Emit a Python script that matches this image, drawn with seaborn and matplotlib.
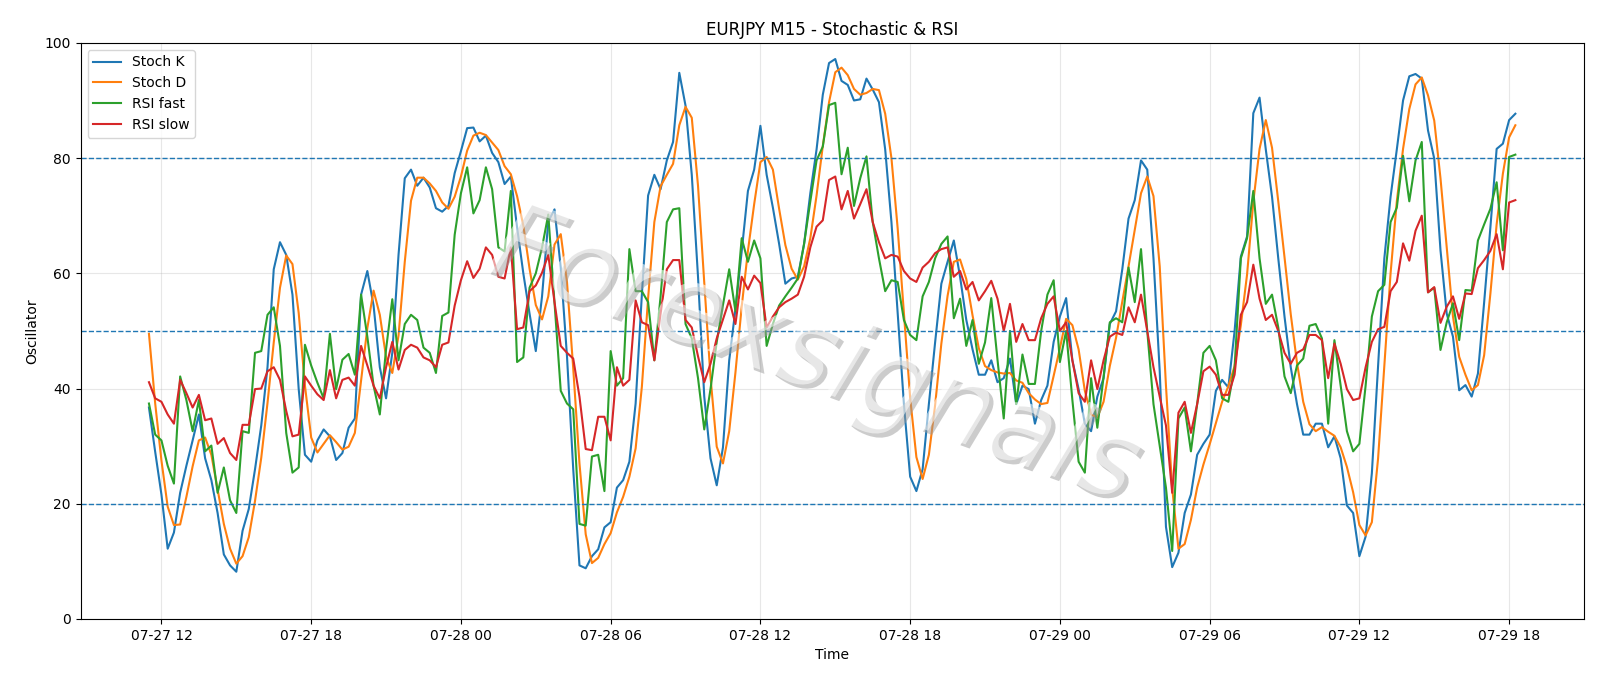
import numpy as np
import pandas as pd
import matplotlib
matplotlib.use("Agg")
import matplotlib.pyplot as plt
import matplotlib.dates as mdates
import matplotlib.patheffects as pe
import seaborn as sns

# 1. Data (M15 bars)
start_time = "2022-07-27 11:30"
n_bars = 220

stoch_k = [
    36.7, 29.0, 21.6, 12.2, 15.0, 21.9, 26.6, 31.0, 35.5, 27.9,
    24.1, 18.4, 11.2, 9.3, 8.2, 15.3, 19.1, 26.0, 33.6, 43.7,
    60.7, 65.4, 63.2, 56.3, 39.9, 28.5, 27.3, 31.0, 32.9, 31.7,
    27.6, 28.8, 33.2, 34.8, 56.3, 60.4, 54.4, 43.7, 38.3, 46.2,
    63.2, 76.5, 78.0, 75.2, 76.6, 74.9, 71.3, 70.7, 71.7, 77.4,
    81.2, 85.2, 85.3, 82.9, 83.9, 80.9, 79.3, 75.5, 76.8, 68.0,
    60.0, 53.0, 46.5, 56.0, 69.0, 71.1, 61.0, 45.6, 26.0, 9.3,
    8.8, 10.9, 12.1, 15.9, 16.8, 22.8, 24.1, 27.3, 37.4, 56.3,
    73.5, 77.1, 74.6, 79.6, 82.8, 94.8, 89.1, 77.1, 59.4, 38.6,
    27.9, 23.2, 29.8, 44.9, 53.8, 63.8, 74.3, 78.0, 85.6, 77.1,
    71.4, 65.1, 58.2, 59.1, 59.4, 65.1, 73.9, 81.5, 91.0, 96.5,
    97.2, 93.4, 92.7, 90.0, 90.2, 93.8, 91.9, 89.7, 81.5, 68.9,
    53.1, 37.3, 24.7, 22.2, 26.0, 37.3, 48.0, 58.2, 62.0, 65.7,
    59.4, 51.9, 46.8, 42.4, 42.4, 44.9, 41.1, 41.8, 45.2, 37.3,
    40.5, 39.9, 33.9, 38.0, 40.5, 48.1, 52.5, 55.7, 44.9, 39.9,
    33.9, 32.6, 38.6, 41.8, 51.2, 53.4, 60.7, 69.5, 72.7, 79.6,
    78.0, 62.6, 43.0, 16.0, 9.0, 11.5, 18.4, 21.6, 28.5, 30.4,
    32.0, 39.6, 41.5, 40.2, 50.0, 62.9, 66.4, 87.8, 90.5, 81.5,
    73.3, 62.6, 52.5, 43.7, 37.3, 32.0, 32.0, 33.9, 33.9, 29.8,
    31.7, 27.9, 19.7, 18.4, 10.9, 14.3, 25.3, 44.1, 62.6, 73.3,
    81.5, 90.0, 94.2, 94.6, 93.8, 84.8, 79.9, 64.0, 53.0, 49.0,
    39.7, 40.6, 38.6, 42.6, 55.0, 68.0, 81.6, 82.5, 86.6, 87.7,
]

stoch_d = [
    49.5, 37.4, 27.5, 19.5, 16.3, 16.4, 21.2, 26.5, 31.0, 31.5,
    28.5, 22.5, 16.5, 12.2, 9.6, 10.9, 14.2, 20.5, 28.0, 37.5,
    48.0, 57.5, 63.1, 61.6, 53.1, 40.5, 31.5, 28.9, 30.4, 31.9,
    30.7, 29.4, 29.9, 32.3, 41.4, 50.5, 57.0, 52.8, 45.5, 42.7,
    49.2, 62.0, 72.6, 76.6, 76.6, 75.6, 74.3, 72.3, 71.2, 73.3,
    76.8, 81.3, 83.9, 84.4, 84.0, 82.7, 81.4, 78.6, 77.2, 73.4,
    68.3, 60.8, 54.5, 52.0, 56.0, 65.0, 66.8, 58.5, 43.5, 27.0,
    14.7, 9.7, 10.6, 13.0, 14.9, 18.5, 21.2, 24.7, 29.6, 40.3,
    55.7, 68.9, 75.1, 77.1, 79.0, 85.7, 88.9, 87.0, 75.2, 58.4,
    42.0, 29.9, 27.0, 32.6, 42.8, 54.2, 63.9, 72.0, 79.3, 80.2,
    78.0, 71.2, 64.9, 60.8, 58.9, 61.2, 66.1, 73.5, 82.1, 89.7,
    94.9, 95.7, 94.4, 92.0, 91.0, 91.3, 92.0, 91.8, 87.7, 80.0,
    67.8, 53.1, 38.4, 28.1, 24.3, 28.5, 37.1, 47.8, 56.1, 62.0,
    62.4, 59.0, 52.7, 47.0, 43.9, 43.2, 42.8, 42.6, 42.7, 41.4,
    41.0, 39.2, 38.1, 37.3, 37.5, 42.2, 47.0, 52.1, 51.0, 46.8,
    39.6, 35.5, 35.0, 37.7, 43.9, 48.8, 55.1, 61.2, 67.6, 73.9,
    76.8, 73.4, 61.2, 40.5, 22.7, 12.2, 13.0, 17.2, 22.8, 26.8,
    30.3, 34.0, 37.7, 40.4, 43.9, 51.0, 59.8, 72.4, 81.6, 86.6,
    81.8, 72.5, 62.8, 52.9, 44.5, 37.7, 33.8, 32.6, 33.3, 32.5,
    31.8, 29.8, 26.4, 22.0, 16.3, 14.5, 16.8, 27.9, 44.0, 60.0,
    72.5, 81.6, 88.5, 92.8, 94.0, 90.9, 86.5, 76.5, 64.5, 52.5,
    45.5, 42.4, 39.7, 40.6, 45.8, 56.5, 68.5, 77.3, 83.6, 85.7,
]

rsi_fast = [
    37.4, 32.0, 31.0, 26.6, 23.5, 42.1, 38.0, 32.6, 38.0, 29.1,
    30.1, 21.9, 26.3, 20.6, 18.4, 32.6, 32.3, 46.2, 46.5, 52.8,
    54.1, 47.4, 32.3, 25.4, 26.3, 47.6, 44.0, 41.0, 38.3, 49.5,
    39.9, 45.0, 46.0, 42.4, 56.3, 49.0, 40.5, 35.5, 46.8, 55.5,
    44.9, 51.2, 52.8, 51.9, 47.1, 46.2, 42.7, 52.6, 53.2, 66.7,
    73.9, 78.4, 70.4, 72.7, 78.4, 74.6, 64.5, 63.8, 74.3, 44.6,
    45.4, 57.5, 60.0, 64.5, 70.2, 55.0, 39.6, 37.4, 36.4, 16.5,
    16.2, 28.2, 28.5, 22.2, 46.5, 40.5, 41.8, 64.2, 56.9, 56.9,
    55.0, 44.9, 56.0, 68.9, 71.1, 71.3, 51.2, 48.7, 41.8, 32.9,
    39.9, 48.1, 54.5, 60.7, 53.4, 66.1, 62.0, 65.7, 62.6, 47.4,
    51.2, 54.4, 56.0, 57.5, 59.1, 65.1, 72.5, 79.6, 82.0, 89.2,
    89.6, 77.2, 81.8, 71.7, 76.5, 80.3, 68.9, 62.6, 56.9, 58.8,
    58.5, 51.9, 49.3, 48.4, 56.0, 58.5, 62.6, 65.1, 66.4, 52.2,
    55.6, 47.4, 51.9, 44.3, 48.0, 55.7, 45.0, 34.8, 50.0, 37.3,
    45.9, 40.8, 40.8, 50.0, 56.3, 58.8, 44.6, 50.0, 38.0, 27.3,
    25.4, 41.8, 33.2, 42.0, 51.5, 52.2, 51.5, 61.0, 55.0, 64.2,
    50.0, 37.3, 30.0, 22.8, 11.8, 34.8, 36.7, 29.1, 37.3, 46.2,
    47.4, 44.9, 38.3, 37.7, 43.7, 62.6, 66.1, 74.3, 62.6, 54.7,
    56.3, 50.6, 42.1, 39.2, 44.0, 45.2, 50.9, 51.2, 48.7, 33.9,
    48.4, 40.5, 32.6, 29.1, 30.4, 40.5, 52.5, 56.9, 58.0, 68.9,
    71.4, 80.4, 72.5, 79.6, 82.8, 56.7, 57.5, 46.7, 51.5, 54.8,
    48.4, 57.1, 57.0, 65.7, 68.5, 71.2, 75.8, 64.0, 80.2, 80.6,
]

rsi_slow = [
    41.1, 38.3, 37.7, 35.5, 33.9, 41.5, 39.2, 36.7, 38.9, 34.5,
    34.8, 30.4, 31.4, 28.8, 27.6, 33.7, 33.7, 39.9, 40.0, 43.0,
    43.7, 41.5, 36.1, 31.7, 32.0, 42.1, 40.5, 39.0, 38.0, 43.2,
    38.3, 41.5, 41.9, 40.5, 47.4, 44.0, 40.5, 38.3, 43.7, 48.1,
    43.3, 46.7, 47.6, 47.1, 45.4, 44.9, 43.7, 47.6, 48.0, 54.4,
    58.8, 62.1, 59.2, 60.8, 64.5, 63.2, 59.4, 59.1, 64.5, 50.3,
    50.6, 56.9, 57.9, 60.1, 63.2, 55.0, 47.4, 46.2, 45.2, 38.6,
    29.5, 29.3, 35.1, 35.1, 31.0, 43.7, 40.5, 41.5, 55.3, 51.5,
    51.0, 44.9, 53.0, 60.7, 62.3, 62.3, 51.9, 50.6, 45.6, 41.1,
    44.3, 48.7, 52.0, 55.3, 51.2, 59.4, 57.2, 59.6, 58.3, 50.6,
    52.5, 54.1, 55.0, 55.6, 56.3, 59.4, 64.5, 68.1, 69.2, 76.2,
    76.8, 71.1, 74.3, 69.5, 72.0, 74.6, 68.9, 65.4, 62.6, 63.2,
    62.9, 60.4, 59.1, 58.5, 61.0, 62.0, 63.5, 64.2, 64.5, 59.4,
    60.4, 57.2, 58.5, 55.3, 56.9, 58.7, 55.6, 50.0, 54.7, 48.1,
    51.2, 48.4, 48.4, 52.2, 54.7, 56.0, 50.0, 51.5, 44.9, 39.2,
    37.7, 44.9, 39.9, 44.9, 49.0, 49.7, 49.3, 54.1, 51.5, 56.3,
    50.0, 43.7, 38.6, 33.6, 21.9, 35.8, 37.7, 32.3, 37.3, 43.0,
    43.8, 42.4, 38.9, 38.9, 42.4, 52.8, 55.0, 61.5, 55.6, 51.9,
    52.8, 50.0, 46.2, 44.3, 46.2, 46.8, 49.3, 49.3, 48.4, 41.8,
    47.8, 44.3, 39.9, 38.0, 38.3, 43.7, 48.1, 50.3, 50.7, 56.9,
    58.5, 65.2, 62.2, 67.4, 70.0, 56.7, 57.6, 51.4, 54.2, 56.0,
    52.1, 56.5, 56.4, 60.9, 62.3, 63.9, 66.8, 60.7, 72.3, 72.7,
]

series_names = ["Stoch K", "Stoch D", "RSI fast", "RSI slow"]
series_colors = ["#1f77b4", "#ff7f0e", "#2ca02c", "#d62728"]
levels = [20, 50, 80]

# 2. Build frame
times = pd.date_range(start_time, periods=n_bars, freq="15min")
df = pd.DataFrame({
    "Time": times,
    "Stoch K": stoch_k,
    "Stoch D": stoch_d,
    "RSI fast": rsi_fast,
    "RSI slow": rsi_slow,
})

# 3. Plot
fig, ax = plt.subplots(figsize=(16, 6.86), dpi=100)
fig.subplots_adjust(left=0.0504, right=0.9898, top=0.9375, bottom=0.0977)

for name, col in zip(series_names, series_colors):
    sns.lineplot(data=df, x="Time", y=name, ax=ax, color=col, linewidth=1.5, label=name)

for lv in levels:
    ax.axhline(lv, color="#1f77b4", linestyle="--", linewidth=1)

ax.set_ylim(0, 100)
ax.grid(True, alpha=0.3)
ax.xaxis.set_major_locator(mdates.HourLocator(byhour=[0, 6, 12, 18]))
ax.xaxis.set_major_formatter(mdates.DateFormatter("%m-%d %H"))
ax.set_xlabel("Time")
ax.set_ylabel("Oscillator")
ax.set_title("EURJPY M15 - Stochastic & RSI")
ax.legend(loc="upper left")

# watermark
ax.text(0.488, 0.455, "Forexsignals", transform=ax.transAxes, fontsize=78,
        style="italic", color="white", alpha=0.55, rotation=-20,
        ha="center", va="center", rotation_mode="anchor", zorder=5,
        path_effects=[pe.withSimplePatchShadow(offset=(3, -3), shadow_rgbFace="#9a9a9a", alpha=0.5)])

plt.savefig("out.png", dpi=100)
